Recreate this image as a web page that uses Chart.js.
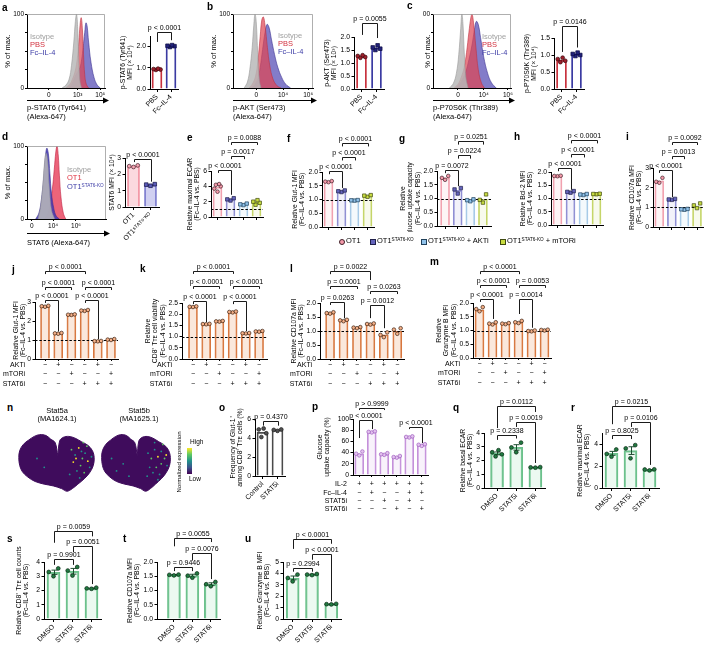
<!DOCTYPE html>
<html><head><meta charset="utf-8">
<script src="https://cdn.jsdelivr.net/npm/chart.js@4.4.1/dist/chart.umd.min.js"></script>
<style>
html,body{margin:0;padding:0;background:#fff}
#fig{position:relative;width:708px;height:645px;overflow:hidden;background:#fff;font-family:'Liberation Sans',Arial,Helvetica,sans-serif;color:#000}
#fig canvas{position:absolute}
.tx{position:absolute;white-space:nowrap;line-height:1}
.tx sup{font-size:62%;vertical-align:0.45em;line-height:0}
</style></head><body><div id="fig"></div>
<script>
// ================= DATA =================
const abcCats = ['PBS', 'Fc–IL-4'];
const aMeans = [0.93, 2.03];
const aPoints = [[0.90, 0.92, 0.94, 0.96], [1.98, 2.02, 2.04, 2.07]];
const aPvals = ['p < 0.0001'];
const bMeans = [1.25, 1.58];
const bPoints = [[1.20, 1.23, 1.27, 1.30], [1.50, 1.55, 1.60, 1.68]];
const bPvals = ['p = 0.0055'];
const cMeans = [0.85, 1.02];
const cPoints = [[0.79, 0.83, 0.88, 0.92], [0.97, 1.00, 1.03, 1.07]];
const cPvals = ['p = 0.0146'];
// histograms (x in display units 0–100, y in % of max)
const aIsoX = [45, 50, 54, 57, 60, 62, 63.5, 65, 66.5, 68, 70];
const aIsoY = [0, 4, 12, 30, 62, 90, 100, 80, 35, 8, 0];
const aPbsX = [50, 55, 59, 62, 64.5, 66.5, 68, 69.5, 71, 72.5, 74, 76, 79];
const aPbsY = [0, 5, 14, 24, 40, 62, 85, 95, 80, 45, 18, 5, 0];
const aFcX = [54, 58, 62, 65, 68, 70, 72, 74, 75.5, 77, 79, 82, 86, 90, 94];
const aFcY = [0, 6, 16, 22, 28, 38, 55, 75, 88, 84, 62, 35, 14, 4, 0];
const bIsoX = [14, 18, 21, 24, 26, 27.5, 29, 31, 33, 35];
const bIsoY = [0, 8, 25, 55, 85, 100, 90, 45, 10, 0];
const bPbsX = [20, 24, 28, 31, 34, 36, 38, 40, 43, 46, 50, 55, 60];
const bPbsY = [0, 5, 15, 35, 70, 92, 96, 85, 55, 30, 12, 3, 0];
const bFcX = [23, 27, 31, 34, 37, 40, 42.5, 45, 48, 52, 56, 61, 66, 72];
const bFcY = [0, 4, 12, 28, 52, 75, 86, 82, 66, 45, 28, 14, 5, 0];
const cIsoX = [21, 26, 30, 33, 35.5, 37, 38.5, 40, 42, 45];
const cIsoY = [0, 6, 20, 45, 80, 100, 85, 50, 15, 0];
const cPbsX = [27, 32, 36, 40, 43, 46, 48.5, 50, 52, 55, 58, 62, 66];
const cPbsY = [0, 5, 14, 28, 48, 75, 95, 100, 88, 55, 25, 7, 0];
const cFcX = [29, 34, 38, 42, 46, 50, 53, 55.5, 58, 61, 65, 70, 75, 81];
const cFcY = [0, 5, 12, 22, 38, 58, 78, 90, 86, 68, 42, 20, 7, 0];
const dIsoX = [14, 17, 20, 22, 24, 26, 28, 31, 35];
const dIsoY = [0, 15, 45, 75, 90, 80, 45, 12, 0];
const dKoX = [11, 15, 18, 21, 23, 25, 27, 29, 31, 34, 37, 41];
const dKoY = [0, 8, 25, 55, 82, 97, 90, 62, 35, 14, 4, 0];
const dOtX = [22, 26, 29, 32, 34.5, 36.5, 38, 39.5, 41, 43, 46, 49];
const dOtY = [0, 6, 18, 40, 68, 92, 100, 88, 60, 30, 8, 0];
const aTickPos = [28, 65, 94], aTickLab = ['0', '10³', '10⁵'];
const bTickPos = [29, 62.5, 94], bcTickLab = ['0', '10⁴', '10⁶'];
const cTickPos = [32, 65, 96];
const dTickPos = [6, 33, 62];
// d
const dCats = ['OT1', 'OT1ˢᵀᴬᵀ⁶⁻ᴷᴼ'];
const dMeans = [2.5, 1.35];
const dPoints = [[2.45, 2.5, 2.55], [1.30, 1.37, 1.40]];
const dPvals = ['p < 0.0001'];
// e–i
const eMeans = [3.9, 2.3, 1.65, 1.9];
const ePoints = [[3.3, 3.7, 4.0, 4.2, 4.3], [2.15, 2.3, 2.45], [1.55, 1.65, 1.75], [1.6, 1.85, 2.0, 2.2]];
const ePvals = ['p < 0.0001', 'p = 0.0017', 'p = 0.0088'];
const fMeans = [1.65, 1.3, 0.97, 1.13];
const fPoints = [[1.63, 1.65, 1.67], [1.27, 1.3, 1.33], [0.96, 0.97, 0.98], [1.1, 1.14, 1.16]];
const fPvals = ['p < 0.0001', 'p < 0.0001', 'p < 0.0001'];
const gMeans = [1.75, 1.3, 0.94, 0.97];
const gPoints = [[1.68, 1.75, 1.82], [1.18, 1.33, 1.38], [0.9, 0.94, 0.97], [0.85, 0.95, 1.15]];
const gPvals = ['p = 0.0072', 'p = 0.0224', 'p = 0.0251'];
const hMeans = [1.85, 1.25, 1.15, 1.17];
const hPoints = [[1.84, 1.85, 1.86], [1.22, 1.25, 1.28], [1.13, 1.15, 1.17], [1.16, 1.17, 1.18]];
const hPvals = ['p < 0.0001', 'p < 0.0001', 'p < 0.0001'];
const iMeans = [2.35, 1.4, 0.9, 1.03];
const iPoints = [[2.25, 2.3, 2.5], [1.38, 1.4, 1.43], [0.88, 0.9, 0.92], [0.96, 1.1, 1.2]];
const iPvals = ['p < 0.0001', 'p = 0.0013', 'p = 0.0092'];
const eiPairs = [[0, 1], [1, 2], [1, 3]];
// j–m
const treatRows = ['AKTi', 'mTORi', 'STAT6i'];
const treatCats = [['−', '−', '−'], ['+', '−', '−'], ['−', '+', '−'], ['−', '−', '+'], ['+', '−', '+'], ['−', '+', '+']];
const jMeans = [2.77, 1.35, 2.33, 2.55, 0.94, 1.02];
const jPoints = [[2.75, 2.78, 2.8], [1.33, 1.35, 1.37], [2.32, 2.33, 2.35], [2.53, 2.55, 2.58], [0.93, 0.94, 0.95], [1.0, 1.02, 1.05]];
const jPvals = ['p < 0.0001', 'p < 0.0001', 'p < 0.0001', 'p < 0.0001', 'p < 0.0001'];
const kMeans = [2.33, 1.56, 1.68, 2.1, 1.15, 1.23];
const kPoints = [[2.32, 2.33, 2.35], [1.55, 1.56, 1.57], [1.67, 1.68, 1.7], [2.08, 2.1, 2.12], [1.14, 1.15, 1.16], [1.22, 1.23, 1.25]];
const kPvals = ['p < 0.0001', 'p < 0.0001', 'p < 0.0001', 'p < 0.0001', 'p < 0.0001'];
const jkPairs = [[0, 1], [3, 4], [0, 2], [3, 5], [0, 3]];
const lMeans = [1.64, 1.38, 1.12, 1.25, 0.86, 1.0];
const lPoints = [[1.62, 1.64, 1.67], [1.35, 1.38, 1.4], [1.1, 1.12, 1.14], [1.23, 1.25, 1.27], [0.78, 0.86, 0.95], [0.9, 1.05, 1.1]];
const lPvals = ['p = 0.0263', 'p = 0.0001', 'p = 0.0022', 'p = 0.0012', 'p = 0.0263'];
const mMeans = [1.75, 1.25, 1.25, 1.3, 0.98, 1.02];
const mPoints = [[1.7, 1.78, 1.85], [1.22, 1.25, 1.3], [1.23, 1.25, 1.27], [1.27, 1.3, 1.35], [0.97, 0.98, 1.0], [1.0, 1.02, 1.03]];
const mPvals = ['p < 0.0001', 'p < 0.0001', 'p < 0.0001', 'p = 0.0014', 'p = 0.0053'];
const lmPairs = [[0, 1], [0, 2], [0, 3], [3, 4], [3, 5]];
// n UMAP (outline + expression hot-spots)
const umapX = [45, 42, 37, 32, 25, 19, 13, 7, 3, 2, 3, 6, 12, 20, 30, 40, 49, 55, 61, 67, 74, 80, 84, 85, 83, 78, 71, 64, 57, 51, 47, 45];
const umapY = [27, 12, 8, 4, 3, 5, 9, 14, 21, 29, 38, 45, 51, 56, 59, 61, 64, 67, 64, 59, 53, 46, 38, 29, 21, 15, 11, 7, 5, 6, 10, 27];
const n1HiX = [60, 64, 68, 72, 75, 78, 80, 70, 66, 74, 62, 58, 77, 82, 69, 73, 65, 71, 22, 30];
const n1HiY = [20, 26, 18, 30, 24, 33, 40, 38, 44, 46, 34, 48, 16, 28, 52, 12, 30, 22, 30, 40];
const n1HiLvl = [2, 1, 3, 2, 1, 3, 1, 2, 1, 2, 3, 1, 2, 1, 1, 2, 3, 1, 1, 1];
const n2HiX = [58, 62, 66, 70, 74, 78, 81, 68, 64, 72, 76, 60, 57, 80, 70, 66, 74, 20, 28, 35, 14];
const n2HiY = [24, 30, 20, 28, 22, 30, 38, 40, 46, 48, 14, 40, 50, 26, 54, 12, 36, 44, 36, 50, 30];
const n2HiLvl = [1, 2, 1, 3, 1, 2, 1, 2, 1, 1, 2, 1, 1, 3, 1, 1, 2, 1, 1, 1, 1];
// o
const oCats = ['Control', 'STAT5i'];
const oMeans = [4.6, 4.85];
const oPoints = [[4.1, 4.5, 4.9, 5.0], [4.75, 4.85, 4.9]];
const oPvals = ['p = 0.4370'];
// p
const pRows = ['IL-2', 'Fc–IL-4', 'STAT5i', 'STAT6i'];
const pCats = [['+', '−', '−', '−'], ['+', '+', '−', '−'], ['+', '−', '+', '−'], ['+', '−', '−', '+'], ['+', '+', '+', '−'], ['+', '+', '−', '+']];
const pMeans = [38, 77, 37, 32, 68, 54];
const pPoints = [[35, 38, 42], [76, 77, 78], [36, 37, 39], [31, 32, 34], [67, 68, 69], [52, 54, 55]];
const pPvals = ['p > 0.9999', 'p < 0.0001', 'p < 0.0001'];
const pPairs = [[0, 2], [0, 1], [4, 5]];
// q–u
const qCats = ['DMSO', 'STAT5i', 'STAT6i'];
const qMeans = [2.52, 2.95, 1.5], qSem = [0.1, 0.2, 0.01];
const qPoints = [[2.3, 2.45, 2.6, 2.75], [2.6, 2.95, 3.3], [1.48, 1.5, 1.52]];
const qPvals = ['p = 0.2338', 'p = 0.0019', 'p = 0.0112'];
const rMeans = [3.15, 3.4, 1.65], rSem = [0.18, 0.35, 0.03];
const rPoints = [[2.85, 3.1, 3.5], [2.7, 3.6, 3.9], [1.6, 1.68, 1.7]];
const rPvals = ['p = 0.8025', 'p = 0.0106', 'p = 0.0215'];
const sMeans = [3.28, 3.35, 2.15], sSem = [0.15, 0.2, 0.03];
const sPoints = [[3.0, 3.3, 3.55], [3.05, 3.4, 3.65], [2.12, 2.15, 2.2]];
const sPvals = ['p = 0.9901', 'p = 0.0051', 'p = 0.0059'];
const tMeans = [1.55, 1.52, 1.22], tSem = [0.01, 0.05, 0.05];
const tPoints = [[1.53, 1.55, 1.56], [1.45, 1.52, 1.6], [1.15, 1.22, 1.3]];
const tPvals = ['p = 0.9446', 'p = 0.0076', 'p = 0.0055'];
const uMeans = [3.6, 3.9, 1.3], uSem = [0.17, 0.03, 0.02];
const uPoints = [[3.3, 3.6, 3.9], [3.85, 3.9, 3.95], [1.28, 1.3, 1.33]];
const uPvals = ['p = 0.2994', 'p < 0.0001', 'p < 0.0001'];
const quPairs = [[0, 1], [1, 2], [0, 2]];

// ================= RENDERING =================
const FONT = "'Liberation Sans', Arial, Helvetica, sans-serif";
Chart.defaults.font.family = FONT;
Chart.defaults.font.size = 7;
Chart.defaults.color = '#000';
const FIG = document.getElementById('fig');
const rep = (v, n) => Array.from({length: n}, () => v);
const JIT = {1: [0.5], 2: [0, 1], 3: [0.5, 0, 1], 4: [0.35, 1, 0, 0.65], 5: [0.5, 0, 1, 0.25, 0.75]};

function canvasAt(L, T, R, B) {
  const c = document.createElement('canvas');
  c.width = R - L; c.height = B - T;
  c.style.left = L + 'px'; c.style.top = T + 'px';
  c.style.width = (R - L) + 'px'; c.style.height = (B - T) + 'px';
  FIG.appendChild(c); return c;
}
function label(x, y, html, o = {}) {
  const d = document.createElement('div');
  d.className = 'tx'; d.innerHTML = html;
  d.style.left = x + 'px'; d.style.top = y + 'px';
  d.style.fontSize = (o.size || 7) + 'px';
  if (o.bold) d.style.fontWeight = 'bold';
  if (o.color) d.style.color = o.color;
  let tf = o.center ? 'translate(-50%,-50%)' : 'translateY(-50%)';
  if (o.rot) tf += ' rotate(' + o.rot + 'deg)';
  d.style.transform = tf;
  FIG.appendChild(d); return d;
}

function histPanel(o) {
  const [l, t, r, b] = o.plot;
  const cv = canvasAt(o.L, o.T, o.R, o.B);
  new Chart(cv, {
    type: 'line',
    data: {datasets: o.curves.map(c => ({data: c.x.map((x, i) => ({x, y: c.y[i]})), fill: 'origin', backgroundColor: c.fill, borderColor: c.line, borderWidth: 0.6, pointRadius: 0, tension: 0.4}))},
    options: {
      responsive: false, devicePixelRatio: 1, animation: false,
      layout: {padding: {left: 0, top: t - o.T, right: o.R - r, bottom: 0}},
      plugins: {legend: {display: false}, tooltip: {enabled: false}},
      scales: {
        x: {type: 'linear', min: 0, max: 100,
          afterBuildTicks: s => { s.ticks = o.xt.map(v => ({value: v})); },
          ticks: {autoSkip: false, minRotation: 0, maxRotation: 0, padding: 1, font: {size: 6.5}, color: '#000', callback: v => { const k = o.xt.indexOf(v); return k >= 0 ? o.xl[k] : ''; }},
          grid: {drawOnChartArea: false, tickLength: 2, color: '#000'},
          border: {color: '#000'},
          title: {display: true, text: o.xTitle, align: 'start', padding: 0, color: '#000', font: {size: 7.5, lineHeight: '9px'}},
          afterFit: s => { s.height = o.B - b; s.paddingLeft = 0; s.paddingRight = 0; }},
        y: {min: 0, max: 100,
          afterBuildTicks: s => { s.ticks = [0, 25, 50, 75, 100].map(v => ({value: v})); },
          ticks: {padding: 1, font: {size: 6.5}, color: '#000', callback: v => (v === 0 || v === 100) ? String(v) : ''},
          grid: {drawOnChartArea: false, tickLength: 2, color: '#000'},
          border: {color: '#000'},
          title: {display: true, text: '% of max.', padding: 0, color: '#000', font: {size: 7.5, lineHeight: '9px'}},
          afterFit: s => { s.width = l - o.L; s.paddingTop = 0; s.paddingBottom = 0; }}
      }
    },
    plugins: [{id: 'frame', afterDraw(ch) {
      const a = ch.chartArea, x = ch.ctx;
      x.save(); x.strokeStyle = '#9a9a9a'; x.lineWidth = 0.8;
      x.beginPath(); x.moveTo(a.left, a.top + 0.5); x.lineTo(a.right - 0.5, a.top + 0.5); x.lineTo(a.right - 0.5, a.bottom); x.stroke();
      const ay = o.arrowY - o.T + 0.5;
      x.strokeStyle = '#000'; x.lineWidth = 1.2;
      x.beginPath(); x.moveTo(a.left, ay); x.lineTo(a.right, ay); x.stroke();
      x.fillStyle = '#000'; x.beginPath(); x.moveTo(a.right + 4, ay); x.lineTo(a.right - 2, ay - 3); x.lineTo(a.right - 2, ay + 3); x.closePath(); x.fill();
      x.restore();
    }}]
  });
}

function barPanel(o) {
  const [l, t, r, b] = o.plot, n = o.means.length;
  const cL = o.cL ?? o.L;
  const cv = canvasAt(cL, o.T, o.R, o.B);
  const pts = [], pbg = [], pbd = [], pst = [], prad = [];
  o.points.forEach((arr, i) => {
    const k = arr.length, pat = JIT[k] || arr.map((_, j) => j / (k - 1));
    arr.forEach((v, j) => {
      const off = (pat[j] - 0.5) * (o.jit || 0.5);
      pts.push({x: i + off, y: v});
      pbg.push(o.ptFill[i]); pbd.push(o.ptEdge[i]);
      const sq = o.ptShape[i] === 'rect';
      pst.push(sq ? 'rect' : 'circle'); prad.push(sq ? o.ptR * 1.35 : o.ptR);
    });
  });
  const lab = o.cats || o.means.map(() => '');
  const rot = o.rot || 0;
  const lhPx = o.xLhPx || 8;
  const tickX = o.xTick ?? 3, padX = o.xPad ?? 1;
  new Chart(cv, {
    type: 'bar',
    data: {datasets: [
      {type: 'bar', data: o.means.map((v, i) => ({x: i, y: v})), backgroundColor: o.barFill, borderColor: o.barEdge, borderWidth: o.bw || 1.1, barThickness: o.barW, borderSkipped: 'bottom', order: 3},
      {type: 'scatter', data: pts, backgroundColor: pbg, borderColor: pbd, pointStyle: pst, pointRadius: prad, borderWidth: 0.7, order: 1}
    ]},
    options: {
      responsive: false, devicePixelRatio: 1, animation: false,
      layout: {padding: {left: o.L - cL, top: t - o.T, right: o.R - r, bottom: 0}},
      plugins: {legend: {display: false}, tooltip: {enabled: false}},
      scales: {
        x: {type: 'linear', offset: false, min: -0.5 - (o.gL || 0), max: n - 0.5 + (o.gR || 0),
          afterBuildTicks: s => { s.ticks = o.means.map((_, i) => ({value: i})); },
          ticks: {autoSkip: false, minRotation: rot, maxRotation: rot, padding: padX, font: {size: 7, lineHeight: lhPx + 'px'}, color: '#000', callback: v => lab[v]},
          grid: {display: true, offset: false, drawOnChartArea: false, drawTicks: true, tickLength: tickX, color: '#000', lineWidth: 1},
          border: {display: true, color: '#000', width: 1},
          afterFit: s => { s.height = o.B - b; s.paddingLeft = 0; s.paddingRight = 0; }},
        y: {type: 'linear', min: 0, max: o.ymax,
          ticks: {stepSize: o.step, padding: 1.5, font: {size: 6.8}, color: '#000', callback: v => v.toFixed(o.dec)},
          grid: {drawOnChartArea: false, tickLength: 2.5, color: '#000', lineWidth: 1},
          border: {display: true, color: '#000', width: 1},
          title: {display: true, text: o.yTitle, padding: 0, color: '#000', font: {size: 6.8, lineHeight: '7.5px'}},
          afterFit: s => { s.width = l - o.L; s.paddingTop = 0; s.paddingBottom = 0; }}
      }
    },
    plugins: [{id: 'anno',
      afterDatasetDraw(ch, args) {
        if (args.index !== 0) return;
        const ctx = ch.ctx, xs = ch.scales.x, ys = ch.scales.y, a = ch.chartArea;
        ctx.save();
        if (o.ref !== undefined) {
          const y = Math.round(ys.getPixelForValue(o.ref)) + 0.5;
          ctx.strokeStyle = '#000'; ctx.lineWidth = 1; ctx.setLineDash([2.5, 1.8]);
          ctx.beginPath(); ctx.moveTo(a.left, y); ctx.lineTo(a.right, y); ctx.stroke(); ctx.setLineDash([]);
        }
        if (o.sem) {
          ctx.strokeStyle = o.errColor || '#1e4e30'; ctx.lineWidth = 1;
          o.sem.forEach((e, i) => {
            const x = Math.round(xs.getPixelForValue(i)) + 0.5;
            const y1 = ys.getPixelForValue(o.means[i] + e), y2 = ys.getPixelForValue(o.means[i] - e);
            ctx.beginPath(); ctx.moveTo(x, y1); ctx.lineTo(x, y2);
            ctx.moveTo(x - 3, y1); ctx.lineTo(x + 3, y1); ctx.moveTo(x - 3, y2); ctx.lineTo(x + 3, y2); ctx.stroke();
          });
        }
        ctx.restore();
      },
      afterDraw(ch) {
        const ctx = ch.ctx, xs = ch.scales.x, ys = ch.scales.y;
        ctx.save();
        ctx.strokeStyle = '#1a1a1a'; ctx.lineWidth = 1; ctx.fillStyle = '#000';
        ctx.font = '7px ' + FONT; ctx.textAlign = 'center'; ctx.textBaseline = 'alphabetic';
        (o.pairs || []).forEach((pr, k) => {
          const g = o.brY[k];
          const xa = Math.round(xs.getPixelForValue(pr[0])) + 0.5, xb = Math.round(xs.getPixelForValue(pr[1])) + 0.5;
          const y = Math.round(ys.getPixelForValue(g[0])) + 0.5;
          ctx.beginPath(); ctx.moveTo(xa, ys.getPixelForValue(g[1])); ctx.lineTo(xa, y); ctx.lineTo(xb, y); ctx.lineTo(xb, ys.getPixelForValue(g[2])); ctx.stroke();
          ctx.fillText(o.pvals[k], (xa + xb) / 2, y - 2.5);
        });
        if (o.rows) {
          ctx.textAlign = 'right'; ctx.textBaseline = 'middle';
          o.rows.forEach((rw, k) => {
            ctx.fillText(rw, o.rowX - cL, xs.top + tickX + padX + lhPx * (k + 0.5));
          });
        }
        ctx.restore();
      }
    }]
  });
}

function umapPanel(o) {
  const cv = canvasAt(o.L, o.T, o.R, o.B);
  const vir = ['#440154', '#21918c', '#5ec962', '#fde725'];
  new Chart(cv, {
    type: 'line',
    data: {datasets: [
      {data: umapX.map((x, i) => ({x, y: umapY[i]})), fill: 'shape', backgroundColor: '#3f0c5c', borderColor: '#3f0c5c', borderWidth: 1, pointRadius: 0, tension: 0.35, order: 2},
      {type: 'scatter', data: o.hx.map((x, i) => ({x, y: o.hy[i]})), backgroundColor: o.hl.map(c => vir[c]), borderWidth: 0, pointRadius: 0.9, order: 1}
    ]},
    options: {responsive: false, devicePixelRatio: 1, animation: false, layout: {padding: 0},
      plugins: {legend: {display: false}, tooltip: {enabled: false}},
      scales: {x: {type: 'linear', display: false, min: 0, max: 87}, y: {type: 'linear', display: false, min: 0, max: 69, reverse: true}}}
  });
}

// ---------- colours ----------
const ISO = {fill: 'rgba(185,185,185,0.85)', line: '#999'};
const PBS = {fill: 'rgba(222,70,85,0.72)', line: '#c03040'};
const FC = {fill: 'rgba(72,62,175,0.68)', line: '#3a3090'};
const KO = {fill: 'rgba(68,58,178,0.88)', line: '#3a3090'};
const OTR = {fill: 'rgba(228,40,70,0.72)', line: '#c02040'};

// ---------- a–d histograms ----------
histPanel({L: 3, T: 8, R: 112, B: 121, plot: [27, 14, 105, 88], arrowY: 100, xt: aTickPos, xl: aTickLab, xTitle: ['p-STAT6 (Tyr641)', '(Alexa-647)'],
  curves: [{x: aIsoX, y: aIsoY, ...ISO}, {x: aPbsX, y: aPbsY, ...PBS}, {x: aFcX, y: aFcY, ...FC}]});
histPanel({L: 209, T: 8, R: 318, B: 121, plot: [233, 14, 313, 88], arrowY: 100, xt: bTickPos, xl: bcTickLab, xTitle: ['p-AKT (Ser473)', '(Alexa-647)'],
  curves: [{x: bIsoX, y: bIsoY, ...ISO}, {x: bPbsX, y: bPbsY, ...PBS}, {x: bFcX, y: bFcY, ...FC}]});
histPanel({L: 423, T: 8, R: 517, B: 121, plot: [433, 14, 511, 88], arrowY: 100, xt: cTickPos, xl: bcTickLab, xTitle: ['p-P70S6K (Thr389)', '(Alexa-647)'],
  curves: [{x: cIsoX, y: cIsoY, ...ISO}, {x: cPbsX, y: cPbsY, ...PBS}, {x: cFcX, y: cFcY, ...FC}]});
histPanel({L: 3, T: 140, R: 112, B: 247, plot: [27, 146, 106, 219], arrowY: 233, xt: dTickPos, xl: bcTickLab, xTitle: ['STAT6 (Alexa-647)'],
  curves: [{x: dIsoX, y: dIsoY, ...ISO}, {x: dKoX, y: dKoY, ...KO}, {x: dOtX, y: dOtY, ...OTR}]});

// ---------- a–c bars ----------
const abcStyle = {barFill: 'rgba(255,255,255,0)', barEdge: ['#c8323e', '#3b3ba2'], bw: 1.2, barW: 10, ptFill: ['#9e1f2b', '#22227a'], ptEdge: ['#3a0a10', '#0a0a40'], ptShape: ['circle', 'rect'], ptR: 1.9, rot: 45, cats: abcCats};
barPanel({...abcStyle, L: 119, T: 14, R: 188, B: 125, plot: [150, 36, 178, 89], means: aMeans, points: aPoints, ymax: 2.5, step: 0.5, dec: 1,
  yTitle: ['p-STAT6 (Tyr641)', 'MFI (× 10⁴)'], pairs: [[0, 1]], pvals: aPvals, brY: [[2.69, 2.22, 2.3]]});
barPanel({...abcStyle, L: 323, T: 8, R: 394, B: 125, plot: [354, 37, 384, 89], means: bMeans, points: bPoints, ymax: 2.0, step: 0.5, dec: 1,
  yTitle: ['p-AKT (Ser473)', 'MFI (× 10³)'], pairs: [[0, 1]], pvals: bPvals, brY: [[2.54, 2.08, 1.96]]});
barPanel({...abcStyle, L: 523, T: 10, R: 596, B: 125, plot: [554, 38, 584, 89], means: cMeans, points: cPoints, ymax: 1.5, step: 0.5, dec: 1,
  yTitle: ['p-P70S6K (Thr389)', 'MFI (× 10⁴)'], pairs: [[0, 1]], pvals: cPvals, brY: [[1.85, 1.09, 1.22]]});
barPanel({L: 108, T: 143, R: 172, B: 258, plot: [125, 158, 159, 207], means: dMeans, points: dPoints, cats: dCats, rot: 45, ymax: 3, step: 1, dec: 0,
  barFill: ['rgba(246,170,184,0.45)', 'rgba(150,150,225,0.45)'], barEdge: ['#f08a9a', '#7070c8'], barW: 12, ptFill: ['#f6a6b4', '#5a5ab8'], ptEdge: ['#402028', '#101040'], ptShape: ['circle', 'rect'], ptR: 1.9,
  yTitle: 'STAT6 MFI (× 10⁴)', pairs: [[0, 1]], pvals: dPvals, brY: [[2.94, 2.75, 1.55]]});

// ---------- e–i ----------
const eiStyle = {barFill: ['rgba(242,162,176,0.12)', 'rgba(144,144,212,0.12)', 'rgba(168,203,232,0.12)', 'rgba(198,214,106,0.12)'], barEdge: ['#f2a2b0', '#9090d4', '#a8cbe8', '#c6d66a'], barW: 9,
  ptFill: ['#f49aaa', '#6464bc', '#90c2ea', '#c8dc40'], ptEdge: ['#402028', '#20204a', '#20405a', '#404a10'], ptShape: ['circle', 'rect', 'rect', 'rect'], ptR: 1.8, ref: 1, pairs: eiPairs};
barPanel({...eiStyle, L: 186, T: 128, R: 272, B: 232, plot: [211, 171, 263, 217], means: eMeans, points: ePoints, ymax: 6, step: 1, dec: 0,
  yTitle: ['Relative maximal ECAR', '(Fc–IL-4 vs. PBS)'], pvals: ePvals, brY: [[6.15, 5.75, 2.9], [7.95, 7.55, 7.55], [9.78, 9.4, 9.4]]});
barPanel({...eiStyle, L: 291, T: 128, R: 382, B: 232, plot: [322, 172, 374, 227], means: fMeans, points: fPoints, ymax: 2, step: 0.5, dec: 1,
  yTitle: ['Relative Glut-1 MFI', '(Fc–IL-4 vs. PBS)'], pvals: fPvals, brY: [[2.04, 1.92, 1.42], [2.55, 2.42, 2.42], [3.05, 2.93, 2.93]]});
barPanel({...eiStyle, L: 399, T: 126, R: 498, B: 232, plot: [437, 171, 491, 226], gL: 0.14, gR: 0.14, means: gMeans, points: gPoints, ymax: 2, step: 0.5, dec: 1,
  yTitle: ['Relative', 'glucose uptake capacity', '(Fc–IL-4 vs. PBS)'], pvals: gPvals, brY: [[2.04, 1.92, 1.45], [2.58, 2.45, 2.45], [3.09, 2.96, 2.96]]});
barPanel({...eiStyle, L: 519, T: 126, R: 612, B: 232, plot: [551, 172, 603, 225], means: hMeans, points: hPoints, ymax: 2, step: 0.5, dec: 1,
  yTitle: ['Relative Bcl-2 MFI', '(Fc–IL-4 vs. PBS)'], pvals: hPvals, brY: [[2.15, 2.03, 1.33], [2.68, 2.55, 2.55], [3.2, 3.08, 3.08]]});
barPanel({...eiStyle, L: 628, T: 126, R: 708, B: 232, plot: [653, 168, 705, 227], means: iMeans, points: iPoints, ymax: 3, step: 1, dec: 0,
  yTitle: ['Relative CD107a MFI', '(Fc–IL-4 vs. PBS)'], pvals: iPvals, brY: [[2.9, 2.75, 1.52], [3.61, 3.45, 3.45], [4.32, 4.17, 4.17]]});

// ---------- j–m ----------
const jmStyle = {barFill: 'rgba(240,180,140,0.3)', barEdge: '#d7763e', barW: 9, ptFill: rep('#f5b088', 6), ptEdge: rep('#3a2010', 6), ptShape: rep('circle', 6), ptR: 1.8,
  ref: 1, cats: treatCats, rows: treatRows, xLhPx: 9.5, xTick: 2, xPad: -1};
barPanel({...jmStyle, cL: 0, L: 12, T: 258, R: 125, B: 392, plot: [35, 302, 118, 359], gL: 0.26, gR: 0.03, rowX: 25, means: jMeans, points: jPoints, ymax: 3, step: 1, dec: 0,
  yTitle: ['Relative Glut-1 MFI', '(Fc–IL-4 vs. PBS)'], pairs: jkPairs, pvals: jPvals,
  brY: [[3.1, 2.95, 1.45], [3.1, 2.95, 1.05], [3.79, 3.63, 3.63], [3.79, 3.63, 3.63], [4.63, 4.47, 4.47]]});
barPanel({...jmStyle, L: 144, T: 258, R: 274, B: 392, plot: [182, 303, 267, 359], gL: 0.33, gR: 0.1, rowX: 172, means: kMeans, points: kPoints, ymax: 2.5, step: 0.5, dec: 1,
  yTitle: ['Relative', 'CD8⁺ Tᴛᴇ cell viability', '(Fc–IL-4 vs. PBS)'], pairs: jkPairs, pvals: kPvals,
  brY: [[2.59, 2.45, 1.65], [2.59, 2.45, 1.25], [3.26, 3.13, 3.13], [3.26, 3.13, 3.13], [3.93, 3.8, 3.8]]});
barPanel({...jmStyle, cL: 284, L: 290, T: 258, R: 412, B: 392, plot: [320, 303, 404, 359], gL: 0.25, rowX: 312, means: lMeans, points: lPoints, ymax: 2, step: 0.5, dec: 1,
  yTitle: ['Relative CD107a MFI', '(Fc–IL-4 vs. PBS)'], pairs: lmPairs, pvals: lPvals,
  brY: [[2.04, 1.93, 1.45], [2.61, 2.5, 2.5], [3.14, 3.03, 2.82], [1.93, 1.46, 1.1], [2.43, 2.32, 2.32]]});
barPanel({...jmStyle, L: 435, T: 255, R: 560, B: 392, plot: [473, 303, 551, 358], rowX: 460, means: mMeans, points: mPoints, ymax: 2, step: 0.5, dec: 1,
  yTitle: ['Relative', 'Granzyme B MFI', '(Fc–IL-4 vs. PBS)'], pairs: lmPairs, pvals: mPvals,
  brY: [[2.15, 2.04, 1.42], [2.65, 2.55, 2.55], [3.16, 3.05, 3.05], [2.15, 1.6, 1.1], [2.65, 2.55, 2.55]]});

// ---------- n ----------
umapPanel({L: 13, T: 428, R: 100, B: 497, hx: n1HiX, hy: n1HiY, hl: n1HiLvl});
umapPanel({L: 96, T: 428, R: 176, B: 497, hx: n2HiX, hy: n2HiY, hl: n2HiLvl});

// ---------- o, p ----------
barPanel({L: 229, T: 405, R: 292, B: 508, plot: [255, 419, 285, 476], cats: oCats, rot: 45, means: oMeans, points: oPoints, ymax: 6, step: 2, dec: 0,
  barFill: 'rgba(255,255,255,0)', barEdge: '#4a4a4a', barW: 11, ptFill: rep('#505050', 2), ptEdge: rep('#202020', 2), ptShape: rep('circle', 2), ptR: 1.9,
  yTitle: ['Frequency of Glut-1⁺', 'among CD8⁺ Tᴛᴇ cells (%)'], pairs: [[0, 1]], pvals: oPvals, brY: [[5.79, 5.3, 5.3]]});
barPanel({L: 316, T: 390, R: 434, B: 516, plot: [353, 419, 428, 475], cats: pCats, rows: pRows, rowX: 347, xLhPx: 8.4, xTick: 2, xPad: 3, means: pMeans, points: pPoints, ymax: 100, step: 20, dec: 0,
  barFill: 'rgba(220,190,235,0.2)', barEdge: '#c490da', barW: 9, ptFill: rep('#e2c2ee', 6), ptEdge: rep('#a060c0', 6), ptShape: rep('circle', 6), ptR: 1.8,
  yTitle: ['Glucose', 'uptake capacity (%)'], pairs: pPairs, pvals: pPvals, brY: [[120, 116, 116], [98, 66, 82], [86, 82, 57]]});

// ---------- q–u ----------
const quStyle = {cats: qCats, rot: 45, barFill: 'rgba(180,230,200,0.25)', barEdge: '#6cc18c', bw: 1.5, barW: 13, ptFill: rep('#227a42', 3), ptEdge: rep('#0a2a14', 3), ptShape: rep('circle', 3), ptR: 1.9, pairs: quPairs};
barPanel({...quStyle, L: 459, T: 392, R: 552, B: 522, plot: [484, 433, 545, 488], gL: 0.18, means: qMeans, sem: qSem, points: qPoints, ymax: 4, step: 1, dec: 0,
  yTitle: ['Relative basal ECAR', '(Fc–IL-4 vs. PBS)'], pvals: qPvals, brY: [[3.85, 3.5, 3.6], [4.8, 4.44, 1.82], [5.96, 4.36, 5.53]]});
barPanel({...quStyle, L: 576, T: 392, R: 668, B: 522, plot: [602, 433, 659, 488], means: rMeans, sem: rSem, points: rPoints, ymax: 5, step: 1, dec: 0,
  yTitle: ['Relative maximal ECAR', '(Fc–IL-4 vs. PBS)'], pvals: rPvals, brY: [[4.82, 4.45, 4.45], [6.0, 5.55, 2.1], [7.45, 5.8, 6.9]]});
barPanel({...quStyle, L: 15, T: 516, R: 110, B: 645, plot: [44, 562, 101, 619], means: sMeans, sem: sSem, points: sPoints, ymax: 4, step: 1, dec: 0,
  yTitle: ['Relative CD8⁺ Tᴛᴇ cell counts', '(Fc–IL-4 vs. PBS)'], pvals: sPvals, brY: [[4.21, 3.8, 3.8], [5.12, 4.7, 2.45], [6.18, 5.35, 5.8]]});
barPanel({...quStyle, L: 126, T: 522, R: 226, B: 645, plot: [157, 562, 220, 619], gL: 0.42, means: tMeans, sem: tSem, points: tPoints, ymax: 2, step: 0.5, dec: 1,
  yTitle: ['Relative CD107a MFI', '(Fc–IL-4 vs. PBS)'], pvals: tPvals, brY: [[1.82, 1.68, 1.68], [2.32, 2.05, 1.4], [2.84, 2.55, 2.7]]});
barPanel({...quStyle, L: 256, T: 522, R: 350, B: 645, plot: [283, 562, 341, 619], means: uMeans, sem: uSem, points: uPoints, ymax: 5, step: 1, dec: 0,
  yTitle: ['Relative Granzyme B MFI', '(Fc–IL-4 vs. PBS)'], pvals: uPvals, brY: [[4.47, 4.15, 4.15], [5.7, 5.2, 1.55], [7.02, 6.15, 6.6]]});

// ---------- text overlays ----------
const letters = [['a', 2, 8], ['b', 207, 7], ['c', 407, 6], ['d', 2, 137], ['e', 187, 138], ['f', 287, 139], ['g', 399, 139], ['h', 514, 137], ['i', 626, 137],
  ['j', 12, 270], ['k', 140, 269], ['l', 290, 269], ['m', 430, 262], ['n', 7, 408], ['o', 219, 408], ['p', 312, 407], ['q', 453, 408], ['r', 571, 408],
  ['s', 7, 539], ['t', 123, 539], ['u', 245, 539]];
letters.forEach(([s, x, y]) => label(x, y, s, {size: 10, bold: true}));
const isoC = '#a0a0a0', pbsC = '#d2323f', fcC = '#3c3ca6';
[[30, 37], [278, 36], [482, 37]].forEach(([x, y]) => {
  label(x, y, 'Isotype', {size: 7.5, color: isoC});
  label(x, y + 8, 'PBS', {size: 7.5, color: pbsC});
  label(x, y + 16, 'Fc–IL-4', {size: 7.5, color: fcC});
});
label(67, 170, 'Isotype', {size: 7.5, color: isoC});
label(67, 178, 'OT1', {size: 7.5, color: '#e0303f'});
label(67, 187, 'OT1<sup>STAT6-KO</sup>', {size: 7.5, color: fcC});
function legendItem(x, y, shape, fill, edge, html) {
  const d = document.createElement('div');
  d.style.position = 'absolute'; d.style.left = (x - 2.5) + 'px'; d.style.top = (y - 2.5) + 'px';
  d.style.width = '4px'; d.style.height = '4px'; d.style.background = fill; d.style.border = '0.8px solid ' + edge;
  if (shape === 'circle') d.style.borderRadius = '50%';
  FIG.appendChild(d);
  label(x + 5, y, html, {size: 7.5});
}
legendItem(341, 241, 'circle', '#f49aaa', '#402028', 'OT1');
legendItem(372, 241, 'rect', '#6464bc', '#20204a', 'OT1<sup>STAT6-KO</sup>');
legendItem(423, 241, 'rect', '#90c2ea', '#20405a', 'OT1<sup>STAT6-KO</sup> + AKTi');
legendItem(502, 241, 'rect', '#c8dc40', '#404a10', 'OT1<sup>STAT6-KO</sup> + mTORi');
label(57, 411, 'Stat5a', {center: true, size: 7.5});
label(57, 419, '(MA1624.1)', {center: true, size: 7.5});
label(139, 411, 'Stat5b', {center: true, size: 7.5});
label(139, 419, '(MA1625.1)', {center: true, size: 7.5});
const cb = document.createElement('div');
cb.style.cssText = 'position:absolute;left:187px;top:448px;width:5px;height:26px;background:linear-gradient(to top,#440154,#3b528b,#21918c,#5ec962,#fde725)';
FIG.appendChild(cb);
label(190, 442, 'High', {size: 6.5});
label(189, 479, 'Low', {size: 6.5});
label(179, 462, 'Normalized expression', {center: true, size: 6, rot: -90});
</script></body></html>
